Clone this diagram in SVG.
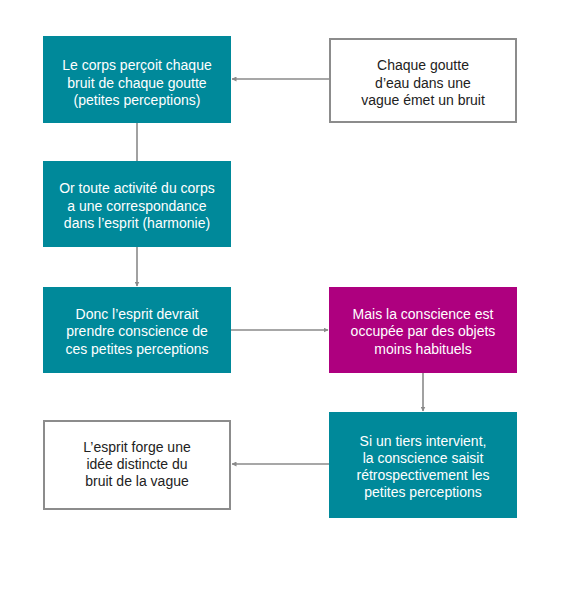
<svg xmlns="http://www.w3.org/2000/svg" width="576" height="590" viewBox="0 0 576 590">
<style>
.teal{fill:#00899a}
.mag{fill:#ae007f}
.white{fill:#ffffff;stroke:#8c8c8c;stroke-width:2}
text{font-family:"Liberation Sans",Arial,sans-serif;font-size:14px;text-anchor:middle}
.lt{fill:#ffffff}
.dk{fill:#222222}
.conn{stroke:#8a8a8a;stroke-width:1.6;fill:none}
</style>
<defs>
<marker id="ah" viewBox="0 0 10 10" refX="9" refY="5" markerWidth="5" markerHeight="5" orient="auto" markerUnits="userSpaceOnUse">
<path d="M0,0 L10,5 L0,10 z" fill="#8a8a8a"/>
</marker>
</defs>
<rect width="576" height="590" fill="#ffffff"/>
<g id="connectors">
<line class="conn" x1="329" y1="79" x2="232" y2="79" marker-end="url(#ah)" style="stroke-width:1.6"/>
<line class="conn" x1="137" y1="123" x2="137" y2="161"/>
<line class="conn" x1="137" y1="247" x2="137" y2="286" marker-end="url(#ah)"/>
<line class="conn" x1="231" y1="330" x2="328" y2="330" marker-end="url(#ah)"/>
<line class="conn" x1="423" y1="373" x2="423" y2="411" marker-end="url(#ah)"/>
<line class="conn" x1="329" y1="464" x2="232" y2="464" marker-end="url(#ah)"/>
</g>
<g id="n1">
<rect class="teal" x="43" y="36" width="188" height="87"/>
<text class="lt" x="137" y="70">Le corps perçoit chaque</text>
<text class="lt" x="137" y="87.5">bruit de chaque goutte</text>
<text class="lt" x="137" y="105">(petites perceptions)</text>
</g>
<g id="n2">
<rect class="white" x="330" y="39" width="186" height="83"/>
<text class="dk" x="423" y="70">Chaque goutte</text>
<text class="dk" x="423" y="87.5">d’eau dans une</text>
<text class="dk" x="423" y="105">vague émet un bruit</text>
</g>
<g id="n3">
<rect class="teal" x="43" y="161" width="188" height="86"/>
<text class="lt" x="137" y="193">Or toute activité du corps</text>
<text class="lt" x="137" y="210.5">a une correspondance</text>
<text class="lt" x="137" y="228">dans l’esprit (harmonie)</text>
</g>
<g id="n4">
<rect class="teal" x="43" y="287" width="188" height="86"/>
<text class="lt" x="137" y="318.5">Donc l’esprit devrait</text>
<text class="lt" x="137" y="336">prendre conscience de</text>
<text class="lt" x="137" y="353.5">ces petites perceptions</text>
</g>
<g id="n5">
<rect class="mag" x="329" y="287" width="188" height="86"/>
<text class="lt" x="423" y="318.5">Mais la conscience est</text>
<text class="lt" x="423" y="336">occupée par des objets</text>
<text class="lt" x="423" y="353.5">moins habituels</text>
</g>
<g id="n6">
<rect class="teal" x="329" y="412" width="188" height="106"/>
<text class="lt" x="423" y="445.5">Si un tiers intervient,</text>
<text class="lt" x="423" y="462.5">la conscience saisit</text>
<text class="lt" x="423" y="479.5">rétrospectivement les</text>
<text class="lt" x="423" y="496.5">petites perceptions</text>
</g>
<g id="n7">
<rect class="white" x="44" y="421" width="186" height="88"/>
<text class="dk" x="137" y="452">L’esprit forge une</text>
<text class="dk" x="137" y="469">idée distincte du</text>
<text class="dk" x="137" y="486">bruit de la vague</text>
</g>
</svg>
